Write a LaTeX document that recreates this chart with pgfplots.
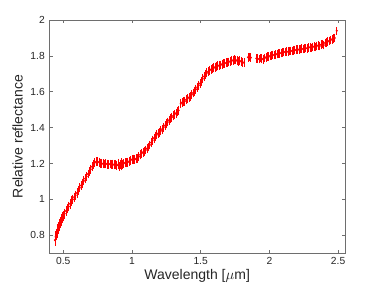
\documentclass[border=0pt]{standalone}
\usepackage{fontspec}
\setmainfont{Liberation Sans}
\usepackage{pgfplots}
\usepackage{pgfplotstable}
\pgfplotsset{compat=1.18}
\definecolor{axgray}{RGB}{110,110,110}
\definecolor{txtgray}{RGB}{38,38,38}
\pgfplotstableread{
x y e
0.440 0.772 0.016
0.445 0.790 0.016
0.450 0.805 0.016
0.455 0.815 0.016
0.460 0.830 0.016
0.465 0.840 0.016
0.470 0.852 0.015
0.475 0.860 0.015
0.480 0.872 0.015
0.485 0.880 0.014
0.490 0.890 0.014
0.495 0.898 0.014
0.500 0.905 0.013
0.510 0.920 0.013
0.520 0.935 0.012
0.530 0.948 0.012
0.540 0.960 0.012
0.550 0.975 0.012
0.560 0.990 0.011
0.570 1.000 0.011
0.580 1.012 0.011
0.590 1.023 0.011
0.600 1.035 0.011
0.610 1.050 0.010
0.620 1.064 0.010
0.630 1.077 0.010
0.640 1.090 0.010
0.650 1.103 0.010
0.660 1.115 0.010
0.670 1.128 0.010
0.680 1.141 0.010
0.690 1.155 0.010
0.700 1.168 0.010
0.710 1.182 0.010
0.720 1.195 0.010
0.730 1.205 0.010
0.740 1.210 0.010
0.750 1.210 0.010
0.760 1.207 0.010
0.770 1.202 0.010
0.780 1.200 0.010
0.790 1.198 0.010
0.800 1.197 0.010
0.810 1.199 0.010
0.820 1.196 0.010
0.830 1.195 0.010
0.840 1.197 0.010
0.850 1.194 0.010
0.860 1.196 0.010
0.870 1.192 0.010
0.880 1.195 0.010
0.890 1.190 0.010
0.900 1.192 0.010
0.905 1.200 0.010
0.910 1.183 0.010
0.915 1.195 0.010
0.920 1.186 0.010
0.925 1.205 0.010
0.930 1.196 0.010
0.940 1.200 0.010
0.950 1.204 0.010
0.960 1.205 0.010
0.970 1.207 0.010
0.980 1.212 0.010
0.990 1.218 0.010
1.000 1.222 0.010
1.010 1.224 0.010
1.020 1.222 0.010
1.030 1.226 0.010
1.040 1.230 0.010
1.050 1.238 0.010
1.060 1.248 0.010
1.070 1.256 0.010
1.080 1.262 0.010
1.090 1.268 0.010
1.100 1.275 0.010
1.110 1.283 0.010
1.120 1.292 0.010
1.130 1.303 0.010
1.140 1.316 0.010
1.150 1.330 0.010
1.160 1.341 0.010
1.170 1.352 0.010
1.180 1.360 0.010
1.190 1.367 0.010
1.200 1.374 0.010
1.210 1.382 0.010
1.220 1.391 0.010
1.230 1.401 0.010
1.240 1.411 0.010
1.250 1.421 0.010
1.260 1.431 0.010
1.270 1.441 0.010
1.280 1.450 0.010
1.290 1.458 0.010
1.300 1.465 0.010
1.310 1.473 0.010
1.320 1.480 0.010
1.330 1.488 0.010
1.340 1.496 0.010
1.355 1.533 0.010
1.365 1.540 0.010
1.375 1.545 0.010
1.385 1.548 0.010
1.395 1.556 0.010
1.405 1.562 0.010
1.415 1.568 0.010
1.425 1.574 0.010
1.435 1.583 0.010
1.445 1.593 0.010
1.455 1.603 0.010
1.465 1.614 0.010
1.475 1.625 0.010
1.485 1.636 0.010
1.495 1.646 0.010
1.505 1.658 0.010
1.515 1.672 0.010
1.525 1.685 0.010
1.535 1.696 0.010
1.545 1.705 0.010
1.555 1.713 0.010
1.565 1.719 0.010
1.575 1.724 0.010
1.585 1.728 0.010
1.595 1.733 0.010
1.605 1.737 0.010
1.615 1.740 0.010
1.625 1.744 0.010
1.635 1.747 0.010
1.645 1.749 0.010
1.655 1.753 0.010
1.665 1.756 0.010
1.675 1.759 0.010
1.685 1.761 0.010
1.695 1.764 0.010
1.705 1.766 0.010
1.715 1.770 0.010
1.725 1.772 0.010
1.735 1.775 0.010
1.745 1.778 0.010
1.755 1.777 0.010
1.765 1.773 0.010
1.775 1.770 0.010
1.785 1.772 0.010
1.795 1.768 0.010
1.805 1.765 0.010
1.815 1.762 0.010
1.845 1.792 0.009
1.855 1.793 0.009
1.865 1.790 0.009
1.905 1.786 0.009
1.915 1.784 0.009
1.925 1.782 0.009
1.935 1.787 0.009
1.945 1.784 0.009
1.955 1.780 0.009
1.965 1.787 0.009
1.975 1.792 0.009
1.985 1.797 0.009
1.995 1.795 0.009
2.005 1.800 0.009
2.015 1.802 0.009
2.025 1.806 0.009
2.035 1.804 0.009
2.045 1.807 0.009
2.055 1.810 0.009
2.065 1.812 0.009
2.075 1.814 0.009
2.085 1.816 0.009
2.095 1.819 0.009
2.105 1.821 0.009
2.115 1.822 0.009
2.125 1.824 0.009
2.135 1.823 0.009
2.145 1.826 0.009
2.155 1.828 0.009
2.165 1.827 0.009
2.175 1.830 0.009
2.185 1.832 0.009
2.195 1.834 0.009
2.205 1.836 0.009
2.215 1.835 0.009
2.225 1.838 0.009
2.235 1.840 0.009
2.245 1.838 0.009
2.255 1.841 0.009
2.265 1.843 0.009
2.275 1.842 0.009
2.285 1.846 0.009
2.295 1.848 0.009
2.305 1.845 0.009
2.315 1.850 0.009
2.325 1.852 0.009
2.335 1.849 0.009
2.345 1.855 0.009
2.355 1.858 0.009
2.365 1.854 0.009
2.375 1.862 0.009
2.385 1.866 0.009
2.395 1.860 0.009
2.405 1.872 0.009
2.415 1.876 0.009
2.425 1.880 0.009
2.435 1.884 0.009
2.445 1.888 0.009
2.455 1.892 0.009
2.465 1.896 0.009
2.475 1.900 0.009
2.490 1.940 0.007
}\spec
\begin{document}
\begin{tikzpicture}
\begin{axis}[
  scale only axis,
  width=221.6pt, height=174.8pt,
  xmin=0.4, xmax=2.55, ymin=0.7, ymax=2,
  xtick={0.5,1,1.5,2,2.5},
  ytick={0.8,1,1.2,1.4,1.6,1.8,2},
  xticklabels={0.5,1,1.5,2,2.5},
  yticklabels={0.8,1,1.2,1.4,1.6,1.8,2},
  tick align=inside,
  major tick length=2.5pt,
  axis line style={axgray, line width=0.5pt},
  tick style={axgray, line width=0.5pt},
  ticklabel style={font=\fontsize{7.7}{9}\selectfont, text=txtgray},
  label style={font=\fontsize{10.5}{12}\selectfont, text=txtgray},
  xlabel={Wavelength [$\mu$m]},
  ylabel={Relative reflectance},
  xlabel style={yshift=4pt},
  ylabel style={yshift=-1pt},
  clip=false,
]
\addplot[only marks, mark=*, mark size=0.6pt, red, draw=red,
  error bars/.cd, y dir=both, y explicit,
  error bar style={red, line width=0.6pt},
  error mark options={red, mark size=2pt, line width=0.6pt}]
  table[x=x, y=y, y error=e] {\spec};
\end{axis}
\pgfresetboundingbox
\path ([shift={(-37.1pt,-24.75pt)}]current axis.south west) rectangle ([shift={(27.75pt,15pt)}]current axis.north east);
\end{tikzpicture}
\end{document}
